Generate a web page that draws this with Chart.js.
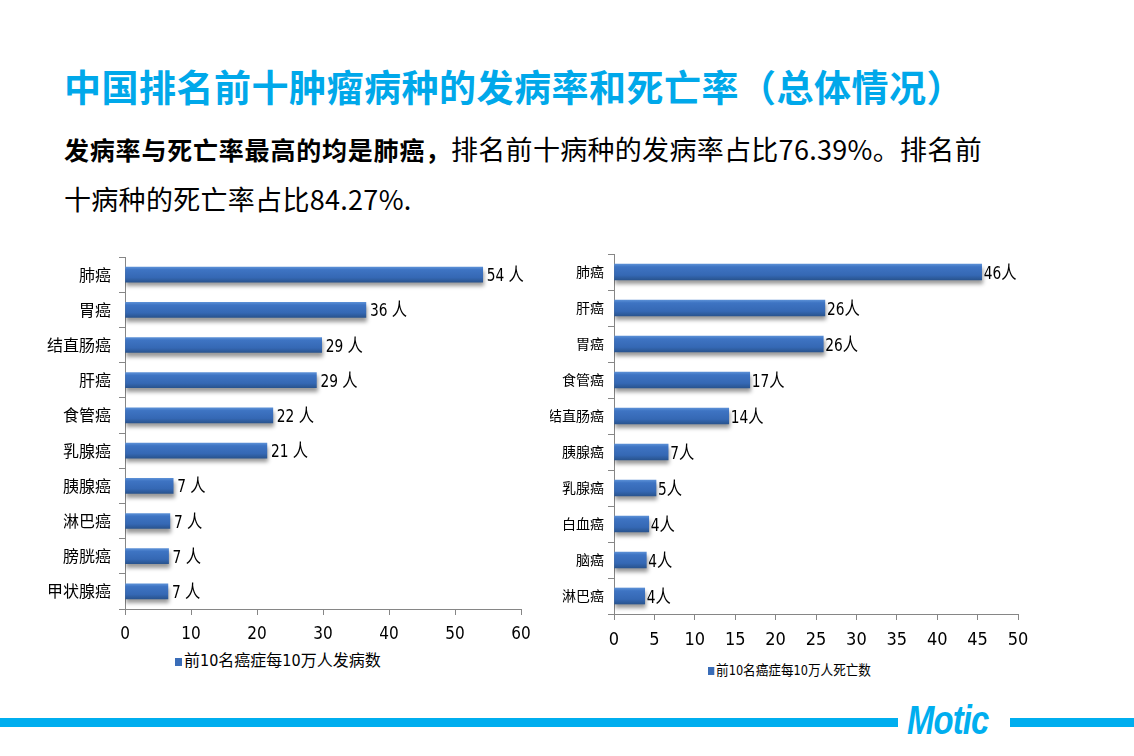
<!DOCTYPE html>
<html>
<head>
<meta charset="utf-8">
<script src="https://cdn.jsdelivr.net/npm/chart.js@4"></script>
<style>
  body { margin: 0; background: #fff; }
  #page { position: relative; width: 1134px; height: 756px; overflow: hidden; background: #fff;
          font-family: 'Noto Sans CJK SC', sans-serif; }
  .title { position: absolute; left: 64px; top: 66px; line-height: 40px; font-size: 37px; font-weight: bold; color: #00A8EA; white-space: nowrap; letter-spacing: 0.5px; }
  .sub { position: absolute; left: 64px; top: 124px; line-height: 50px; font-size: 27px; color: #000; white-space: nowrap; letter-spacing: 0.3px; }
  .sub b { font-size: 25px; letter-spacing: 0.8px; }
  canvas { position: absolute; }
  .legend { position: absolute; white-space: nowrap; color: #000; transform-origin: left center;
            font-family: 'Liberation Sans Narrow', 'DejaVu Sans Condensed', 'Noto Sans CJK SC', sans-serif; }
  .legend i { display: inline-block; width: 7px; height: 8px; background: #3A6DB8; margin-right: 2px; vertical-align: middle; }
  .bar { position: absolute; top: 718px; height: 9px; background: #00AEEF; }
  .logo { position: absolute; left: 907px; top: 698px; font-family: 'Liberation Sans', sans-serif; font-weight: bold; font-style: italic; font-size: 40px; color: #00AEEF; letter-spacing: -1px; transform: scaleX(0.82); transform-origin: left top; }
</style>
</head>
<body>
<div id="page">
  <div class="title">中国排名前十肿瘤病种的发病率和死亡率（总体情况）</div>
  <div class="sub"><b>发病率与死亡率最高的均是肺癌，</b>排名前十病种的发病率占比76.39%。排名前<br>十病种的死亡率占比84.27%.</div>

  <canvas id="incidence-chart" width="500" height="400" style="left:40px; top:250px;"></canvas>
  <div id="incidence-legend" class="legend" style="left:175px; top:650px; font-size:16px; line-height:22px;"></div>

  <canvas id="death-chart" width="490" height="405" style="left:550px; top:250px;"></canvas>
  <div id="death-legend" class="legend" style="left:708px; top:659px; font-size:14px; line-height:22px; transform: scaleX(0.9);"></div>

  <div class="bar" style="left:0; width:898px;"></div>
  <div class="logo">Motic</div>
  <div class="bar" style="left:1010px; width:124px;"></div>
</div>

<script>
// incidence (left)
const incidenceCats = ['肺癌', '胃癌', '结直肠癌', '肝癌', '食管癌', '乳腺癌', '胰腺癌', '淋巴癌', '膀胱癌', '甲状腺癌'];
const incidenceValues = [54.2, 36.5, 29.8, 29.0, 22.4, 21.5, 7.3, 6.8, 6.6, 6.5];
const incidenceText = ['54 人', '36 人', '29 人', '29 人', '22 人', '21 人', '7 人', '7 人', '7 人', '7 人'];
const incidenceName = '前10名癌症每10万人发病数';
const incidenceMax = 60, incidenceStep = 10;

// deaths (right)
const deathCats = ['肺癌', '肝癌', '胃癌', '食管癌', '结直肠癌', '胰腺癌', '乳腺癌', '白血癌', '脑癌', '淋巴癌'];
const deathValues = [45.5, 26.1, 25.9, 16.8, 14.2, 6.7, 5.2, 4.3, 4.0, 3.8];
const deathText = ['46人', '26人', '26人', '17人', '14人', '7人', '5人', '4人', '4人', '4人'];
const deathName = '前10名癌症每10万人死亡数';
const deathMax = 50, deathStep = 5;

const narrow = "'Liberation Sans Narrow', 'DejaVu Sans Condensed', 'Noto Sans CJK SC', sans-serif";
const cjk = "'Noto Sans CJK SC', sans-serif";
const axisGray = '#868686';

// vertical gradient per bar, like the office-style bevel
function barFill(thickness) {
  return function(ctx) {
    const chart = ctx.chart;
    const yScale = chart.scales.y;
    if (ctx.type !== 'data' || !yScale || !chart.chartArea) return '#3A6DB8';
    const cy = yScale.getPixelForValue(ctx.dataIndex);
    const g = chart.ctx.createLinearGradient(0, cy - thickness / 2, 0, cy + thickness / 2);
    g.addColorStop(0, '#5A8FD6');
    g.addColorStop(0.18, '#3E74C3');
    g.addColorStop(0.7, '#3568B4');
    g.addColorStop(1, '#29548F');
    return g;
  };
}

// shadow under bars + value labels at bar ends
const barExtras = {
  id: 'barExtras',
  beforeDatasetsDraw(chart) {
    const c = chart.ctx;
    c.save();
    c.shadowColor = 'rgba(0,0,0,0.4)';
    c.shadowBlur = 4;
    c.shadowOffsetX = 1;
    c.shadowOffsetY = 4;
  },
  afterDatasetsDraw(chart, args, opts) {
    const c = chart.ctx;
    c.restore();
    const meta = chart.getDatasetMeta(0);
    meta.data.forEach((bar, i) => {
      c.save();
      c.translate(bar.x + opts.gap, bar.y + 2);
      c.scale(opts.squeeze, 1);
      c.font = opts.size + 'px ' + narrow;
      c.fillStyle = '#000';
      c.textBaseline = 'middle';
      c.fillText(opts.text[i], 0, 0);
      c.restore();
    });
  }
};

function makeLegend(id, name) {
  document.getElementById(id).innerHTML = '<i></i>' + name;
}

function hbarChart(canvasId, cats, values, text, name, max, step, s) {
  return new Chart(document.getElementById(canvasId), {
    type: 'bar',
    data: {
      labels: cats,
      datasets: [{
        label: name,
        data: values,
        barThickness: s.thick,
        backgroundColor: barFill(s.thick),
        borderWidth: 0
      }]
    },
    options: {
      indexAxis: 'y',
      responsive: false,
      animation: false,
      layout: { padding: { top: s.top, right: s.right, left: 0, bottom: 0 } },
      scales: {
        x: {
          min: 0, max: max,
          ticks: { stepSize: step, color: '#000', padding: s.xpad, font: { family: narrow, size: s.xfont } },
          grid: { drawOnChartArea: false, drawTicks: true, tickLength: 6, color: axisGray },
          border: { color: axisGray },
          afterFit(scale) { scale.height = 41; }
        },
        y: {
          ticks: { color: '#000', padding: s.ypad, font: { family: cjk, size: s.yfont } },
          grid: { drawOnChartArea: false, drawTicks: true, tickLength: 6, color: axisGray, offset: true },
          border: { color: axisGray },
          afterFit(scale) {
            scale.width = s.yw;
            scale.paddingTop = 0;
            scale.paddingBottom = 0;
          }
        }
      },
      plugins: {
        legend: { display: false },
        tooltip: { enabled: false },
        barExtras: { text: text, gap: s.gap, size: s.lfont, squeeze: 0.85 }
      }
    },
    plugins: [barExtras]
  });
}

let incidenceChart = hbarChart('incidence-chart', incidenceCats, incidenceValues, incidenceText, incidenceName,
  incidenceMax, incidenceStep,
  { thick: 15, top: 7, right: 19, yw: 85, xpad: 9, ypad: 8, xfont: 17, yfont: 16, gap: 4, lfont: 18 });
makeLegend('incidence-legend', incidenceName);

let deathChart = hbarChart('death-chart', deathCats, deathValues, deathText, deathName,
  deathMax, deathStep,
  { thick: 16, top: 4, right: 22, yw: 64, xpad: 10, ypad: 4, xfont: 18, yfont: 14, gap: 2, lfont: 18 });
makeLegend('death-legend', deathName);
</script>
</body>
</html>
